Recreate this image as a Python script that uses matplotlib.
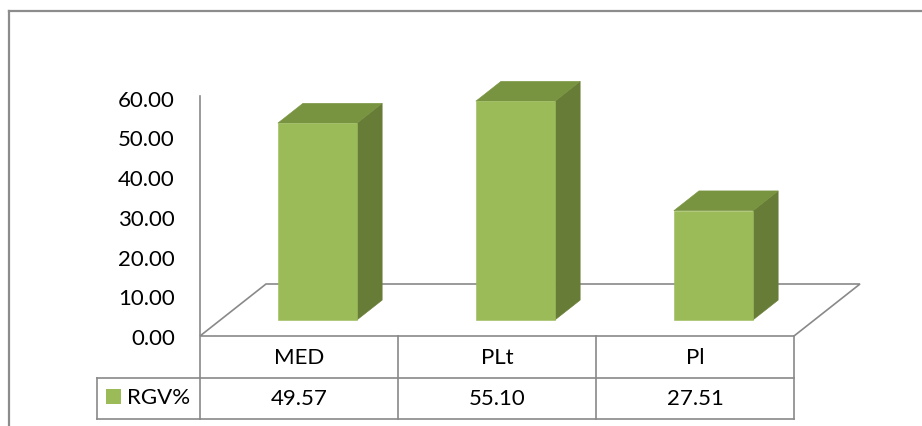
import matplotlib
matplotlib.use("Agg")
import matplotlib.pyplot as plt
from matplotlib.patches import Polygon, Rectangle
from matplotlib.lines import Line2D
from matplotlib.transforms import blended_transform_factory

# data
categories = ["MED", "PLt", "Pl"]
series_name = "RGV%"
rgv_values = [49.57, 55.10, 27.51]
y_ticks = [0, 10, 20, 30, 40, 50, 60]

W, H = 922, 427
DPI = 100
plt.rcParams["font.family"] = ["Lato", "DejaVu Sans"]
FS = 16

fig = plt.figure(figsize=(W / DPI, H / DPI), dpi=DPI)


def fx(px):
    return px / W


def fy(py):
    # py measured from the top of the picture
    return 1 - py / H


# plot area: the categories span px 200..794, zero sits on px 337
x_left, x_right = 200, 794
y_zero = 337
px_per_unit = 3.97
ymax = 60
ax = fig.add_axes([fx(x_left), fy(y_zero), fx(x_right) - fx(x_left),
                   px_per_unit * ymax / H])
ax.set_xlim(0, len(categories))
ax.set_ylim(0, ymax)
ax.patch.set_visible(False)
for s in ax.spines.values():
    s.set_visible(False)
ax.set_xticks([])
ax.set_yticks(y_ticks)
ax.set_yticklabels([f"{t:.2f}" for t in y_ticks])
ax.tick_params(axis="y", length=0, pad=18, labelsize=FS, labelcolor="#000000")

grey = "#898989"
lw = 1.2

# oblique depth of the floor, in data units
unit_px = (x_right - x_left) / len(categories)
depth_dx = 66 / unit_px
depth_dy = 52 / px_per_unit

floor = Polygon([(0, 0), (len(categories), 0),
                 (len(categories) + depth_dx, depth_dy), (depth_dx, depth_dy)],
                closed=True, facecolor="none", edgecolor=grey, lw=lw,
                clip_on=False, zorder=1)
ax.add_patch(floor)

# 3d columns
front_c, side_c, top_c = "#9BBB59", "#677C37", "#789440"
d0, d1 = 0.31, 0.69
bar_l, bar_r = 0.29, 0.69
for i, v in enumerate(rgv_values):
    ox0, oy0 = d0 * depth_dx, d0 * depth_dy
    ox1, oy1 = d1 * depth_dx, d1 * depth_dy
    xl, xr = i + bar_l, i + bar_r
    front = [(xl + ox0, oy0), (xr + ox0, oy0), (xr + ox0, v + oy0), (xl + ox0, v + oy0)]
    side = [(xr + ox0, oy0), (xr + ox1, oy1), (xr + ox1, v + oy1), (xr + ox0, v + oy0)]
    top = [(xl + ox0, v + oy0), (xr + ox0, v + oy0), (xr + ox1, v + oy1), (xl + ox1, v + oy1)]
    for pts, c in ((side, side_c), (top, top_c), (front, front_c)):
        ax.add_patch(Polygon(pts, closed=True, facecolor=c, edgecolor=c, lw=0.4,
                             clip_on=False, zorder=3))

# data table under the plot
row1_bot, row2_bot = 379, 420
legend_left = 97
tr = blended_transform_factory(ax.transData, fig.transFigure)

lines = [
    # horizontal rules
    ([0, len(categories)], [fy(row1_bot)] * 2, tr),
    ([0, len(categories)], [fy(row2_bot)] * 2, tr),
    # column separators
] + [([k, k], [fy(y_zero), fy(row2_bot)], tr) for k in range(1, len(categories) + 1)]
for xs, ys, t in lines:
    fig.add_artist(Line2D(xs, ys, transform=t, color=grey, lw=lw))

# y axis line running down through the table
fig.add_artist(Line2D([fx(x_left)] * 2, [fy(97), fy(row2_bot)], color=grey, lw=lw))
# legend cell
fig.add_artist(Line2D([fx(legend_left), fx(x_left)], [fy(row1_bot)] * 2, color=grey, lw=lw))
fig.add_artist(Line2D([fx(legend_left), fx(x_left)], [fy(row2_bot)] * 2, color=grey, lw=lw))
fig.add_artist(Line2D([fx(legend_left)] * 2, [fy(row1_bot), fy(row2_bot)], color=grey, lw=lw))

fig.add_artist(Rectangle((fx(106), fy(405)), fx(15), 15 / H, facecolor=front_c,
                         edgecolor="none"))
fig.text(fx(127), fy(398), series_name, ha="left", va="center", fontsize=FS)

for i, (cat, v) in enumerate(zip(categories, rgv_values)):
    ax.text(i + 0.5, fy((y_zero + row1_bot) / 2), cat, transform=tr,
            ha="center", va="center", fontsize=FS)
    ax.text(i + 0.5, fy((row1_bot + row2_bot) / 2), f"{v:.2f}", transform=tr,
            ha="center", va="center", fontsize=FS)

# chart area border
fig.add_artist(Line2D([fx(9), fx(9)], [fy(12), 0], color="#8c8c8c", lw=1.6))
fig.add_artist(Line2D([fx(9), 1], [fy(12), fy(12)], color="#8c8c8c", lw=1.6))

fig.savefig("out.png", dpi=DPI, facecolor="white")
